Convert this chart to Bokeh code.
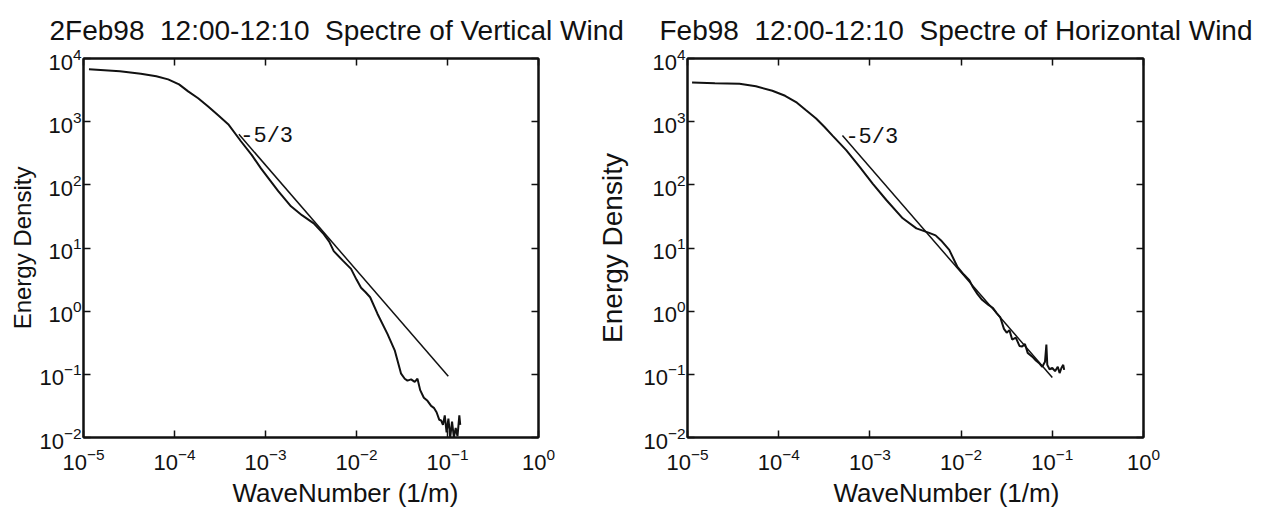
from bokeh.plotting import figure
from bokeh.layouts import row
from bokeh.models import Range1d, LogAxis, FixedTicker, Label, Title
from bokeh.embed import file_html
from bokeh.resources import INLINE

# ---------------- data ----------------
x_ticks = [1e-5, 1e-4, 1e-3, 1e-2, 1e-1, 1e0]
y_ticks = [1e-2, 1e-1, 1e0, 1e1, 1e2, 1e3, 1e4]

titles = ["2Feb98  12:00-12:10  Spectre of Vertical Wind",
          "Feb98  12:00-12:10  Spectre of Horizontal Wind"]
x_label = "WaveNumber (1/m)"
y_label = "Energy Density"
slope_label = "-5/3"

# vertical wind spectrum: log10 wavenumber (1/m), log10 energy density
vert_log_k = [-4.94, -4.60, -4.37, -4.20, -4.07, -3.95, -3.85, -3.74, -3.63, -3.52,
              -3.41, -3.27, -3.15, -3.05, -2.95, -2.86, -2.72, -2.60, -2.47, -2.36,
              -2.30, -2.25, -2.15, -2.06, -2.00, -1.95, -1.90, -1.85, -1.77, -1.66,
              -1.58, -1.51, -1.47, -1.44, -1.40, -1.36, -1.33, -1.30, -1.26, -1.22,
              -1.18, -1.15, -1.12, -1.09, -1.07, -1.05, -1.03, -1.01, -0.99, -0.97,
              -0.95, -0.93, -0.91, -0.89, -0.87, -0.86]
vert_log_E = [3.83, 3.80, 3.76, 3.72, 3.67, 3.59, 3.48, 3.37, 3.24, 3.10,
              2.96, 2.69, 2.47, 2.26, 2.07, 1.90, 1.66, 1.52, 1.39, 1.22,
              1.10, 0.95, 0.80, 0.67, 0.50, 0.37, 0.30, 0.22, -0.04, -0.36,
              -0.62, -0.99, -1.07, -1.10, -1.08, -1.12, -1.07, -1.25, -1.37, -1.42,
              -1.50, -1.53, -1.60, -1.72, -1.73, -1.80, -1.65, -1.92, -1.70, -2.00,
              -1.75, -2.00, -1.85, -1.98, -1.65, -1.80]

# horizontal wind spectrum
horz_log_k = [-4.95, -4.70, -4.43, -4.25, -4.07, -3.93, -3.80, -3.70, -3.59, -3.50,
              -3.41, -3.26, -3.11, -2.97, -2.82, -2.64, -2.49, -2.35, -2.28, -2.22,
              -2.13, -2.04, -1.97, -1.91, -1.87, -1.82, -1.77, -1.70, -1.65, -1.61,
              -1.57, -1.53, -1.50, -1.47, -1.44, -1.40, -1.36, -1.33, -1.30, -1.27,
              -1.22, -1.18, -1.14, -1.11, -1.08, -1.065, -1.055, -1.03, -1.00, -0.97,
              -0.94, -0.92, -0.90, -0.88, -0.87]
horz_log_E = [3.62, 3.61, 3.60, 3.56, 3.49, 3.41, 3.30, 3.18, 3.05, 2.92,
              2.78, 2.55, 2.28, 2.02, 1.76, 1.47, 1.31, 1.24, 1.20, 1.12,
              0.97, 0.70, 0.58, 0.49, 0.38, 0.27, 0.18, 0.10, 0.05, -0.03,
              -0.10, -0.28, -0.34, -0.30, -0.45, -0.42, -0.55, -0.56, -0.52, -0.66,
              -0.72, -0.78, -0.83, -0.88, -0.80, -0.53, -0.85, -0.92, -0.90, -0.95,
              -0.88, -0.98, -0.90, -0.85, -0.93]

# -5/3 reference lines (end points)
vert_slope_k = [5.1e-4, 0.102]
vert_slope_E = [631.0, 0.093]
horz_slope_k = [5.0e-4, 0.100]
horz_slope_E = [603.0, 0.089]

# ---------------- styling ----------------
SANS = "Liberation Sans"
MONO = "Liberation Mono"
INK = "#111111"
H = 515


def keep_spaces(s):
    # double spaces survive in SVG text as space + no-break space
    return s.replace("  ", " \u00a0")


def style_axis(ax, standoff):
    ax.axis_line_color = INK
    ax.axis_line_width = 2
    ax.major_tick_in = 7
    ax.major_tick_out = 0
    ax.major_tick_line_color = INK
    ax.major_tick_line_width = 1.5
    ax.minor_tick_line_color = None
    ax.major_label_text_font = SANS
    ax.major_label_text_font_size = "22px"
    ax.major_label_text_color = INK
    ax.major_label_standoff = standoff
    ax.axis_label_text_font = SANS
    ax.axis_label_text_font_style = "normal"
    ax.axis_label_text_font_size = "28px"
    ax.axis_label_text_color = INK


def make_fig(width, bl, br, bt, bb, title, title_offset, xl_offset,
             yl_size, yl_standoff, **kw):
    p = figure(width=width, height=H, x_axis_type="log", y_axis_type="log",
               x_range=Range1d(x_ticks[0], x_ticks[-1]),
               y_range=Range1d(y_ticks[0], y_ticks[-1]),
               output_backend="svg", toolbar_location=None,
               min_border_left=bl, min_border_right=br,
               min_border_top=bt, min_border_bottom=bb, **kw)
    p.grid.visible = False
    p.background_fill_color = "white"
    p.outline_line_color = INK
    p.outline_line_width = 2
    p.xaxis.ticker = FixedTicker(ticks=x_ticks)
    p.yaxis.ticker = FixedTicker(ticks=y_ticks)
    for ax in p.xaxis:
        style_axis(ax, 10)
    for ax in p.yaxis:
        style_axis(ax, 2)
        ax.axis_label = y_label
        ax.axis_label_text_font_size = yl_size
        ax.axis_label_standoff = yl_standoff
    top = LogAxis(ticker=FixedTicker(ticks=x_ticks))
    style_axis(top, 0)
    top.major_label_text_font_size = "2px"
    top.major_label_text_alpha = 0.0
    p.add_layout(top, "above")
    right = LogAxis(ticker=FixedTicker(ticks=y_ticks))
    style_axis(right, 0)
    right.major_label_text_font_size = "2px"
    right.major_label_text_alpha = 0.0
    p.add_layout(right, "right")

    p.title.text = keep_spaces(title)
    p.title.align = "left"
    p.title.vertical_align = "top"
    p.title.offset = title_offset
    p.title.standoff = 22
    p.title.text_font = SANS
    p.title.text_font_style = "normal"
    p.title.text_font_size = "28px"
    p.title.text_color = INK

    xt = Title(text=x_label, align="left", vertical_align="top",
               offset=xl_offset, standoff=10,
               text_font=SANS, text_font_style="normal",
               text_font_size="26px", text_color=INK)
    p.add_layout(xt, "below")
    return p


# ---------------- left: vertical wind ----------------
p1 = make_fig(650, 83, 112, 57, H - 437, titles[0], -34, 149, "24px", 0)
p1.border_fill_color = "white"
p1.line([10 ** v for v in vert_log_k], [10 ** v for v in vert_log_E],
        line_color=INK, line_width=2)
p1.line(vert_slope_k, vert_slope_E, line_color=INK, line_width=1.5)
p1.add_layout(Label(x=5.28e-4, y=586, text=slope_label, text_font=MONO,
                    text_font_size="22px", text_color=INK,
                    text_baseline="alphabetic"))

# ---------------- right: horizontal wind ----------------
# the right panel overlaps the left one by 60px with a see-through border,
# so the long left title can run on under it as in the original page
p2 = make_fig(698, 97, 145, 58, H - 438, titles[1], -28, 146, "28px", 12,
              margin=(0, 0, 0, -60))
p2.border_fill_color = None
p2.line([10 ** v for v in horz_log_k], [10 ** v for v in horz_log_E],
        line_color=INK, line_width=2)
p2.line(horz_slope_k, horz_slope_E, line_color=INK, line_width=1.5)
p2.add_layout(Label(x=5.39e-4, y=566, text=slope_label, text_font=MONO,
                    text_font_size="22px", text_color=INK,
                    text_baseline="alphabetic"))

layout = row(p1, p2, spacing=0)

with open("out.html", "w") as f:
    f.write(file_html(layout, INLINE))
